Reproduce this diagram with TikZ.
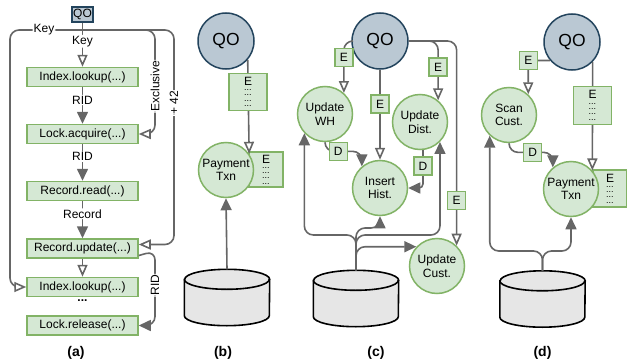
\documentclass[tikz,border=0pt]{standalone}
\usepackage{fontspec}
\setmainfont{Liberation Sans}
\usetikzlibrary{arrows.meta,positioning}
\definecolor{opfill}{HTML}{D5E8D4}
\definecolor{opline}{HTML}{82B366}
\definecolor{qofill}{HTML}{BAC8D3}
\definecolor{qoline}{HTML}{23445D}
\definecolor{wire}{HTML}{666666}
\definecolor{dbfill}{HTML}{E6E6E6}
\newcommand{\edots}{\vbox{\hbox{E}\fontsize{9}{5.3}\selectfont\hbox{...}\hbox{...}\hbox{...}\hbox{...}}}
\newcommand{\dbbody}[1]{%
	\draw[dbline, fill=dbfill] ([yshift=-10pt]#1.north west) -- ([yshift=10pt]#1.south west) arc[start angle=180, end angle=360, x radius=42.5pt, y radius=10pt] -- ([yshift=-10pt]#1.north east) arc[start angle=0, end angle=180, x radius=42.5pt, y radius=10pt] -- cycle;
	\draw[dbline] ([yshift=-10pt]#1.north west) arc[start angle=180, end angle=360, x radius=42.5pt, y radius=10pt];}
\begin{document}
\begin{tikzpicture}[x=1pt, y=-1pt, font=\fontsize{12}{13.5}\selectfont,
	op/.style={rectangle, draw=opline, fill=opfill, line width=1.5pt, minimum width=111pt, minimum height=19pt, inner sep=0pt},
	qo/.style={circle, draw=qoline, fill=qofill, line width=1.5pt, minimum size=56pt, inner sep=0pt, font=\fontsize{17.5}{19}\selectfont},
	txn/.style={circle, draw=opline, fill=opfill, line width=1.5pt, minimum size=55pt, inner sep=0pt, align=center},
	tag/.style={rectangle, sharp corners, draw=opline, fill=opfill, line width=1.5pt, minimum size=18pt, inner sep=0pt},
	etag/.style={tag, minimum width=36pt, minimum height=36pt},
	db/.style={rectangle, minimum width=85pt, minimum height=56pt, inner sep=0pt},
	dbline/.style={draw=black, line width=1.6pt},
	lbl/.style={fill=white, inner sep=1pt},
	sub/.style={font=\fontsize{14}{16}\selectfont\bfseries},
	fwd/.style={draw=wire, line width=1.6pt, rounded corners=9pt, -{Triangle[length=12pt,width=11pt]}},
	req/.style={draw=wire, line width=1.6pt, rounded corners=9pt, -{Triangle[open,length=12pt,width=10pt,fill=white]}}]
	\useasboundingbox (0,0) rectangle (627,364);

	\node[rectangle, draw=qoline, fill=qofill, line width=1.5pt, minimum width=21pt, minimum height=15pt, inner sep=0pt] (qoA) at (82.5,14.5) {QO};
	\node[op] (ix1) at (82.5,77) {Index.lookup(...)};
	\node[op, below=36.5pt of ix1] (lock1) {Lock.acquire(...)};
	\node[op, below=36.5pt of lock1] (read) {Record.read(...)};
	\node[op, below=37pt of read] (upd) {Record.update(...)};
	\node[op, below=18pt of upd] (ix2) {Index.lookup(...)};
	\node[op, below=18pt of ix2] (rel) {Lock.release(...)};
	\node[font=\fontsize{12}{13.5}\selectfont\bfseries] (more) at (82.5,301) {...};
	\coordinate (splitA) at (82.5,30);
	\draw[req] (qoA) -- node[lbl, pos=0.42] {Key} (ix1);
	\draw[req] (splitA) -- node[lbl, pos=0.53] {Key} (10,30) |- (ix2);
	\draw[req] (splitA) -- (155,30) |- node[lbl, rotate=90, pos=0.27] {Exclusive} (lock1);
	\draw[req] (splitA) -- (174,30) |- node[lbl, rotate=90, pos=0.17] {+ 42} ([yshift=4pt]upd.east);
	\draw[fwd] (ix1) -- node[lbl, pos=0.35] {RID} (lock1);
	\draw[fwd] (lock1) -- node[lbl, pos=0.34] {RID} (read);
	\draw[fwd] (read) -- node[lbl, pos=0.34] {Record} (upd);
	\draw[req] (upd) -- (ix2);
	\draw[fwd] ([yshift=-7pt]upd.east) -- (155,251) |- node[lbl, rotate=90, pos=0.23] {RID} (rel);
	\node[sub] (capA) at (76,353) {(a)};

	\node[qo] (qoB) at (226,41) {QO};
	\node[etag, minimum width=34pt, minimum height=35pt] (eB2) at (266,169.5) {\edots};
	\node[txn] (payB) at (226,170) {Payment\\Txn};
	\node[db] (dbB) at (227,297.5) {};
	\dbbody{dbB}
	\draw[req] (qoB.-41) -- node[etag, pos=0.34, minimum width=38pt, minimum height=37pt] (eB1) {\edots} (payB.35);
	\draw[fwd] (dbB.north) -- (payB.south);
	\node[sub] (capB) at (223,353) {(b)};

	\node[qo] (qoC) at (380,41) {QO};
	\node[txn] (uwh) at (325,114) {Update\\WH};
	\node[txn] (udist) at (420,122) {Update\\Dist.};
	\node[txn] (ihist) at (380,188) {Insert\\Hist.};
	\node[txn] (ucust) at (437,266) {Update\\Cust.};
	\node[db] (dbC) at (356,298.5) {};
	\dbbody{dbC}
	\draw[req] (qoC.west) -| node[tag, pos=0.66] (eC1) {E} (uwh.48);
	\draw[req] (qoC) -- node[tag, pos=0.38] (eC2) {E} (ihist);
	\draw[req] (qoC.east) -| node[tag, pos=0.72] (eC3) {E} (udist.50);
	\draw[req] (qoC.east) -| node[tag, pos=0.89] (eC4) {E} (ucust.46);
	\draw[fwd] (uwh.south) |- node[tag, pos=0.68] (dC1) {D} ([yshift=15pt]ihist.130) -- (ihist.130);
	\draw[fwd, rounded corners=4pt] (udist.-84) |- node[tag, pos=0.21] (dC2) {D} (ihist.east);
	\coordinate (busC) at (0,235);
	\coordinate (busCi) at (0,228);
	\draw[fwd] (dbC.north) |- (uwh.-137 |- busC) -- (uwh.-137);
	\draw[fwd] (dbC.north) |- (udist.-45 |- busC) -- (udist.-45);
	\draw[fwd] (dbC.north) |- (ihist.south |- busCi) -- (ihist.south);
	\draw[fwd] (dbC.north) |- (ucust.137);
	\node[sub] (capC) at (376,353) {(c)};

	\node[qo] (qoD) at (572,42) {QO};
	\node[txn] (scan) at (509,115) {Scan\\Cust.};
	\node[etag, minimum width=34pt, minimum height=37pt] (eD3) at (610,188.5) {\edots};
	\node[txn] (payD) at (571,189) {Payment\\Txn};
	\node[db] (dbD) at (542.5,299) {};
	\dbbody{dbD}
	\draw[req] (qoD.-140) -| node[tag, pos=0.5] (eD1) {E} (scan.47);
	\draw[req] (qoD.-44) -- node[etag, pos=0.4, minimum width=38pt, minimum height=38pt] (eD2) {\edots} (payD.41);
	\draw[fwd] (scan.south) |- node[tag, pos=0.77] (dD) {D} ([yshift=15pt]payD.130) -- (payD.130);
	\coordinate (busD) at (0,251);
	\draw[fwd] (dbD.north) |- (scan.-133 |- busD) -- (scan.-133);
	\draw[fwd] (dbD.north) |- (payD.south |- busD) -- (payD.south);
	\node[sub] (capD) at (542.5,353) {(d)};
\end{tikzpicture}
\end{document}
